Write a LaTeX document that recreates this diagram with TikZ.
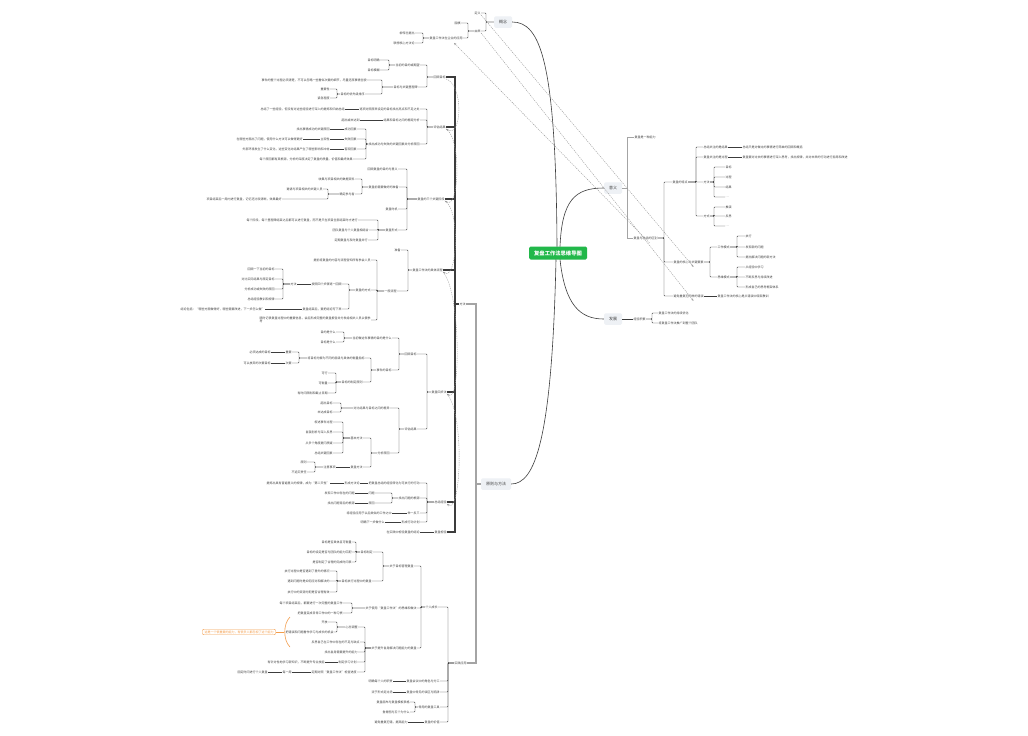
\documentclass[tikz,border=0pt]{standalone}
\usepackage{fontspec}
\setmainfont{Noto Sans CJK SC}
\usetikzlibrary{arrows.meta}
\definecolor{ln}{HTML}{3C3C3C}
\definecolor{tx}{HTML}{404040}
\definecolor{boxf}{HTML}{EEF1F5}
\definecolor{rootg}{HTML}{22B84A}
\definecolor{org}{HTML}{F39C4A}
\definecolor{thk}{HTML}{A4A4A4}
\newcommand\lbr[4][cn]{\foreach \c in {#4}{\draw[#1] (\c.east) -- (#3,0 |- \c.east) |- (#2.west);}}
\newcommand\rbr[4][cn]{\foreach \c in {#4}{\draw[#1] (\c.west) -- (#3,0 |- \c.west) |- (#2.east);}}
\tikzset{
 lt/.style={anchor=east, inner sep=0.3pt, font=\fontsize{3}{3.6}\selectfont, text=tx},
 rt/.style={anchor=west, inner sep=0.3pt, font=\fontsize{3}{3.6}\selectfont, text=tx},
 cn/.style={draw=ln, line width=0.45pt, rounded corners=0.8pt},
 cn1/.style={draw=thk, line width=1.3pt},
 cn2/.style={draw=ln, line width=1.1pt},
 topic/.style={fill=boxf, rounded corners=1.5pt, font=\fontsize{4}{5}\selectfont, text=tx, minimum height=11.5pt, inner xsep=5pt, inner ysep=0pt},
 rl/.style={draw=ln, line width=0.6pt},
 rel/.style={draw=gray!80, line width=0.4pt, dash pattern=on 1.2pt off 1pt, -{Stealth[length=2.5pt,width=2pt]}},
}
\begin{document}
\begin{tikzpicture}[x=1pt,y=-1pt]
\useasboundingbox (0,0) rectangle (1028,736);
\fill[white] (0,0) rectangle (1028,736);
% root
\node[fill=rootg, rounded corners=1.5pt, text=white, font=\fontsize{5.3}{6}\selectfont\bfseries, minimum width=58pt, minimum height=13pt, inner sep=0pt] (root) at (558,253) {复盘工作法思维导图};
\node[topic] (gn) at (503,22) {概念};
\node[topic] (yy) at (613,188) {意义};
\node[topic] (fz) at (613,319) {发展};
\node[topic] (ym) at (496,484) {原则与方法};
\draw[rl] (557,246.5) .. controls (556,60) and (540,22) .. (gn.east);
\draw[rl] (560,246.5) .. controls (562,200) and (575,188) .. (yy.west);
\draw[rl] (560,259.5) .. controls (565,305) and (580,319) .. (fz.west);
\draw[rl] (556,259.5) .. controls (552,440) and (535,484) .. (ym.east);
% gainian
\node[lt] (g1) at (481,13) {定义};
\node[lt] (g2) at (481,31) {由来};
\node[lt] (g21) at (461,23) {围棋};
\node[lt] (g22) at (463,38) {复盘工作法在企业的应用};
\node[lt] (g221) at (415,33) {柳传志提出};
\node[lt] (g222) at (415,43) {联想核心方法论};
\lbr{gn}{486}{g1,g2}
\lbr{g2}{468}{g21,g22}
\lbr{g22}{423}{g221,g222}
% yuanze yu fangfa
\node[lt] (y1) at (466,304) {方法};
\node[lt] (y2) at (467,663) {实践应用};
% a1
\node[lt] (a1) at (446,77) {回顾目标};
\node[lt] (a11) at (420,65) {当初的目的或期望};
\node[lt] (a111) at (380,60) {目标明确};
\node[lt] (a112) at (380,70) {目标模糊};
\node[lt] (a12) at (418,87) {目标与关键里程碑};
\node[lt] (a121) at (367,80) {事件的整个过程必须清楚，不可以忽略一些看似次要的细节，尽量还原事情全貌};
\node[lt] (a122) at (365,94) {目标的优先级排序};
\node[lt] (a1221) at (330,89) {重要性};
\node[lt] (a1222) at (330,98) {紧急程度};
\lbr{a1}{427}{a11,a12}
\lbr{a11}{389}{a111,a112}
\lbr{a12}{382}{a121,a122}
\lbr{a122}{337}{a1221,a1222}
% a2
\node[lt] (a2) at (446,127) {评估结果};
\node[lt] (a21) at (420,109) {逐项对照原来设定的目标找出亮点和不足之处};
\node[lt] (a211) at (345,109) {总结了一些经验，但没有对这些经验进行深入的提炼和归纳总结};
\node[lt] (a22) at (420,120) {结果和目标之间的差距分析};
\node[lt] (a221) at (360,120) {超出或未达到};
\node[lt] (a23) at (420,144) {找出成功与失败的关键因素并分析原因};
\node[lt] (a231) at (357,129) {成功因素};
\node[lt] (a2311) at (330,129) {找出事情成功的关键原因};
\node[lt] (a232) at (357,139) {失败因素};
\node[lt] (a2321) at (330,139) {主观性};
\node[lt] (a2322) at (303,139) {在哪些方面出了问题，使用什么方法可以做得更好};
\node[lt] (a233) at (357,149) {客观因素};
\node[lt] (a2331) at (330,149) {外部环境发生了什么变化，这些变化对结果产生了哪些影响和冲击};
\node[lt] (a234) at (353,159) {每个原因都有其根源，分析的深度决定了复盘的质量、价值和最终效果};
\lbr{a2}{427}{a21,a22,a23}
\lbr{a23}{366}{a231,a232,a233,a234}
\draw[cn] (a211.east) -- (a21.west);
\draw[cn] (a221.east) -- (a22.west);
\draw[cn] (a2311.east) -- (a231.west);
\draw[cn] (a2321.east) -- (a232.west);
\draw[cn] (a2322.east) -- (a2321.west);
\draw[cn] (a2331.east) -- (a233.west);
% a3
\node[lt] (a3) at (445,199) {复盘的三个关键阶段};
\node[lt] (a31) at (398,169) {回顾复盘的目的与意义};
\node[lt] (a32) at (399,187) {复盘前需要做好的准备};
\node[lt] (a321) at (355,179) {收集与项目相关的数据资料};
\node[lt] (a322) at (355,194) {确定参与者};
\node[lt] (a3221) at (323,189) {邀请与项目相关的关键人员};
\node[lt] (a3222) at (282,199) {项目结束后一周内进行复盘，记忆还比较清晰，效果最好};
\node[lt] (a33) at (398,209) {复盘时机};
\node[lt] (a34) at (398,230) {复盘形式};
\node[lt] (a341) at (358,220) {每个阶段、每个里程碑结束之后都可以进行复盘，而不是只在项目全部结束时才进行};
\node[lt] (a342) at (369,230) {团队复盘与个人复盘相结合};
\node[lt] (a343) at (368,240) {定期复盘与及时复盘并行};
\lbr{a3}{407}{a31,a32,a33,a34}
\lbr{a32}{362}{a321,a322}
\lbr{a322}{328}{a3221,a3222}
\lbr{a34}{378}{a341,a342,a343}
% a4
\node[lt] (a4) at (443,270) {复盘工作法的具体流程};
\node[lt] (a41) at (401,250) {准备};
\node[lt] (a42) at (397,291) {一般流程};
\node[lt] (a421) at (371,260) {提前将复盘的内容与流程告知所有参会人员};
\node[lt] (a422) at (371,290) {复盘的方式};
\node[lt] (a4221) at (342,284) {按照四个步骤逐一回顾};
\node[lt] (a42211) at (297,284) {方法};
\node[lt] (a422111) at (275,269) {回顾一下当初的目标};
\node[lt] (a422112) at (275,279) {对比实际结果与原定目标};
\node[lt] (a422113) at (275,289) {分析成功或失败的原因};
\node[lt] (a422114) at (275,299) {总结经验教训和规律};
\node[lt] (a4222) at (342,309) {复盘结束后，要把结论写下来};
\node[lt] (a42221) at (265,309) {结论包括：“哪些方面做得好，哪些需要改进，下一步怎么做”};
\node[lt, align=left] (a423) at (371,320) {随时记录复盘过程中的重要信息，会后形成完整的复盘报告并分发给相关人员以便参\\考};
\lbr{a4}{408}{a41,a42}
\lbr{a42}{377}{a421,a422,a423}
\lbr{a422}{349}{a4221,a4222}
\lbr{a42211}{283}{a422111,a422112,a422113,a422114}
\draw[cn] (a42211.east) -- (a4221.west);
\draw[cn] (a42221.east) -- (a4222.west);
% a5
\node[lt] (a5) at (447,392) {复盘四步法};
\node[lt] (a51) at (417,354) {回顾目标};
\node[lt] (a511) at (392,338) {当初做这件事情的目的是什么};
\node[lt] (a5111) at (336,332) {目的是什么};
\node[lt] (a5112) at (336,342) {目标是什么};
\node[lt] (a512) at (392,370) {事件的目标};
\node[lt] (a5121) at (365,358) {将目标分解为不同的层级与具体的衡量指标};
\node[lt] (a51211) at (292,352) {重要};
\node[lt] (a512111) at (271,352) {必须达成的目标};
\node[lt] (a51212) at (292,363) {次要};
\node[lt] (a512121) at (271,363) {可以放弃的次要目标};
\node[lt] (a5122) at (363,382) {目标的制定原则};
\node[lt] (a51221) at (328,373) {可行};
\node[lt] (a51222) at (328,383) {可衡量};
\node[lt] (a51223) at (328,393) {有时间限制和截止日期};
\node[lt] (a52) at (417,429) {评估结果};
\node[lt] (a521) at (390,408) {对比结果与目标之间的差异};
\node[lt] (a5211) at (333,403) {超出目标};
\node[lt] (a5212) at (333,412) {未达成目标};
\node[lt] (a522) at (390,453) {分析原因};
\node[lt] (a5221) at (363,438) {基本方法};
\node[lt] (a52211) at (333,422) {叙述事件过程};
\node[lt] (a52212) at (333,432) {自我剖析与深入反思};
\node[lt] (a52213) at (333,443) {从多个角度提问质疑};
\node[lt] (a52214) at (333,453) {总结关键因素};
\node[lt] (a5222) at (363,467) {复盘方法};
\node[lt] (a52221) at (336,467) {注意事项};
\node[lt] (a522211) at (307,462) {原则};
\node[lt] (a522212) at (307,472) {不追究责任};
\lbr{a5}{427}{a51,a52}
\lbr{a51}{399}{a511,a512}
\lbr{a511}{344}{a5111,a5112}
\lbr{a512}{371}{a5121,a5122}
\lbr{a5121}{299}{a51211,a51212}
\lbr{a5122}{336}{a51221,a51222,a51223}
\lbr{a52}{399}{a521,a522}
\lbr{a521}{341}{a5211,a5212}
\lbr{a522}{371}{a5221,a5222}
\lbr{a5221}{343}{a52211,a52212,a52213,a52214}
\lbr{a52221}{315}{a522211,a522212}
\draw[cn] (a512111.east) -- (a51211.west);
\draw[cn] (a512121.east) -- (a51212.west);
\draw[cn] (a52221.east) -- (a5222.west);
% a6
\node[lt] (a6) at (447,502) {总结经验};
\node[lt] (a61) at (420,483) {把复盘总结的经验转化为可执行的行动};
\node[lt] (a611) at (360,483) {形成方法论};
\node[lt] (a6111) at (330,483) {提炼出具有普遍意义的规律，成为“第二天性”};
\node[lt] (a62) at (420,498) {找出问题的根源};
\node[lt] (a621) at (375,493) {问题};
\node[lt] (a6211) at (355,493) {发现工作中存在的问题};
\node[lt] (a622) at (375,503) {原因};
\node[lt] (a6221) at (355,503) {找出问题背后的根源};
\node[lt] (a63) at (420,513) {举一反三};
\node[lt] (a631) at (392,513) {将经验应用于以后类似的工作之中};
\node[lt] (a64) at (420,522) {形成行动计划};
\node[lt] (a641) at (385,522) {明确下一步做什么};
\lbr{a6}{427}{a61,a62,a63,a64}
\lbr{a62}{392}{a621,a622}
\draw[cn] (a611.east) -- (a61.west);
\draw[cn] (a6111.east) -- (a611.west);
\draw[cn] (a6211.east) -- (a621.west);
\draw[cn] (a6221.east) -- (a622.west);
\draw[cn] (a631.east) -- (a63.west);
\draw[cn] (a641.east) -- (a64.west);
% a7
\node[lt] (a7) at (447,532) {复盘检验};
\node[lt] (a71) at (420,532) {在实践中检验复盘的结论};
\draw[cn] (a71.east) -- (a7.west);
% b
\node[lt] (b1) at (438,607) {个人成长};
\node[lt] (b11) at (414,566) {关于目标管理复盘};
\node[lt] (b111) at (373,552) {目标制定};
\node[lt] (b1111) at (352,542) {目标是否具体且可衡量};
\node[lt] (b1112) at (352,552) {目标的设定是否与团队的能力匹配};
\node[lt] (b1113) at (352,562) {是否制定了合理的完成时间表};
\node[lt] (b112) at (372,581) {目标执行过程中的复盘};
\node[lt] (b1121) at (330,571) {执行过程中是否遇到了意外的情况};
\node[lt] (b1122) at (330,581) {遇到问题时是如何应对和解决的};
\node[lt] (b1123) at (330,592) {执行中的资源分配是否合理有效};
\node[lt] (b12) at (417,608) {关于使用“复盘工作法”的思维和做法};
\node[lt] (b121) at (343,603) {每个项目结束后，都要进行一次完整的复盘工作};
\node[lt] (b122) at (343,613) {把复盘变成日常工作中的一种习惯};
\node[lt] (b13) at (417,648) {关于提升自身解决问题能力的复盘};
\node[lt] (b131) at (358,627) {心态调整};
\node[lt] (b1311) at (328,622) {开放};
\node[lt] (b1312) at (334,632) {把错误和问题看作学习与成长的机会};
\node[lt] (b132) at (360,642) {反思自己在工作中存在的不足与缺点};
\node[lt] (b133) at (358,652) {找出自身需要提升的能力};
\node[lt] (b134) at (357,662) {制定学习计划};
\node[lt] (b1341) at (325,662) {有针对性地学习新知识，不断提升专业技能};
\node[lt] (b135) at (357,672) {定期对照“复盘工作法”检查进度};
\node[lt] (b1351) at (292,672) {每一周};
\node[lt] (b1352) at (268,672) {固定时间进行个人复盘};
\node[lt] (b2) at (440,681) {复盘会议中的角色与分工};
\node[lt] (b21) at (393,681) {明确每个人的职责};
\node[lt] (b3) at (440,692) {复盘中常见的误区与陷阱};
\node[lt] (b31) at (393,692) {流于形式走过场};
\node[lt] (b4) at (440,707) {常用的复盘工具};
\node[lt] (b41) at (410,702) {复盘画布与复盘模板表格};
\node[lt] (b42) at (410,712) {鱼骨图与五个为什么};
\node[lt] (b5) at (440,722) {复盘的价值};
\node[lt] (b51) at (408,722) {避免重复犯错，提高能力};
\lbr{b1}{421}{b11,b12,b13}
\lbr{b11}{383}{b111,b112}
\lbr{b111}{356}{b1111,b1112,b1113}
\lbr{b112}{337}{b1121,b1122,b1123}
\lbr{b12}{352}{b121,b122}
\lbr{b13}{365}{b131,b132,b133,b134,b135}
\lbr{b131}{337}{b1311,b1312}
\lbr{b4}{415}{b41,b42}
\draw[cn] (b1341.east) -- (b134.west);
\draw[cn] (b1351.east) -- (b135.west);
\draw[cn] (b1352.east) -- (b1351.west);
\draw[cn] (b21.east) -- (b2.west);
\draw[cn] (b31.east) -- (b3.west);
\draw[cn] (b51.east) -- (b5.west);
% callout
\node[draw=org, line width=0.4pt, text=org, rounded corners=1pt, fill=white, font=\fontsize{3}{3.6}\selectfont, inner xsep=2pt, inner ysep=1.3pt] (call) at (239,632) {这是一个很重要的能力，有很多人都忽视了这个能力};
\coordinate (brT) at (290,617);
\coordinate (brM) at (283.5,632);
\coordinate (brB) at (290,647);
\draw[org, line width=0.6pt] (brT) .. controls (283,624) and (283,640) .. (brB);
\draw[org, line width=0.5pt] (call.east) -- (brM);
% main brackets
\lbr[cn1]{ym}{476}{y1,y2}
\lbr[cn2]{y1}{455}{a1,a2,a3,a4,a5,a6,a7}
\lbr[cn]{y2}{448}{b1,b2,b3,b4,b5}
% relationship curves
\draw[rel] (a1.south east) .. controls +(18,6) and +(16,10) .. (a2.south east);
\draw[rel] (a2.south east) .. controls +(16,10) and +(14,10) .. (a3.south east);
\draw[rel] (a3.south east) .. controls +(16,10) and +(14,10) .. (a4.south east);
\draw[rel] (a4.south east) .. controls +(18,20) and +(14,12) .. (a5.south east);
\draw[rel] (a5.south east) .. controls +(18,20) and +(14,12) .. (a6.south east);
% yiyi
\node[rt] (r1) at (634,137) {复盘是一种能力};
\node[rt] (r2) at (633,238) {复盘与总结的区别};
\node[rt] (r21) at (672,182) {复盘的特点};
\node[rt] (r211) at (703,147) {总结关注的是结果};
\node[rt] (r2111) at (742,147) {总结只是对做过的事情进行简单的回顾和概括};
\node[rt] (r212) at (703,157) {复盘关注的是过程};
\node[rt] (r2121) at (742,157) {复盘要对过去的事情进行深入思考，找出规律，并对未来的行动进行指导和改进};
\node[rt] (r213) at (703,182) {方法};
\node[rt] (r2131) at (725,167) {目标};
\node[rt] (r2132) at (725,177) {过程};
\node[rt] (r2133) at (725,187) {结果};
\node[rt] (r2134) at (725,197) {…};
\node[rt] (r214) at (703,216) {方式};
\node[rt] (r2141) at (725,207) {推演};
\node[rt] (r2142) at (725,216) {反思};
\node[rt] (r2143) at (725,226) {…};
\node[rt] (r22) at (673,262) {复盘的核心与关键要素};
\node[rt] (r221) at (717,247) {工作模式};
\node[rt] (r2211) at (745,236) {执行};
\node[rt] (r2212) at (745,247) {发现新的问题};
\node[rt] (r2213) at (745,257) {提出解决问题的新方法};
\node[rt] (r222) at (717,277) {思维模式};
\node[rt] (r2221) at (745,267) {从经验中学习};
\node[rt] (r2222) at (745,277) {不断反思与持续改进};
\node[rt] (r2223) at (745,287) {形成自己的思考框架体系};
\node[rt] (r23) at (673,296) {避免重复犯同样的错误};
\node[rt] (r231) at (717,296) {复盘工作法的核心是从错误中吸取教训};
\rbr[draw=thk, line width=0.9pt]{yy}{627}{r1,r2}
\rbr{r2}{664}{r21,r22,r23}
\rbr{r21}{696}{r211,r212,r213,r214}
\rbr{r213}{714}{r2131,r2132,r2133,r2134}
\rbr{r214}{714}{r2141,r2142,r2143}
\rbr{r22}{710}{r221,r222}
\rbr{r221}{737}{r2211,r2212,r2213}
\rbr{r222}{737}{r2221,r2222,r2223}
\draw[cn] (r211.east) -- (r2111.west);
\draw[cn] (r212.east) -- (r2121.west);
\draw[cn] (r23.east) -- (r231.west);
% fazhan
\node[rt] (f1) at (633,319) {经验积累};
\node[rt] (f11) at (658,313) {复盘工作法的持续优化};
\node[rt] (f12) at (658,323) {将复盘工作法推广到整个团队};
\draw[cn] (fz.east) -- (f1.west);
\rbr{f1}{652}{f11,f12}
% cross relationships
\draw[rel] (g1.south east) -- ([xshift=5pt,yshift=-3pt]r22.south);
\draw[rel] (g2.south east) -- ([xshift=5pt,yshift=-3pt]r23.south);
\draw[rel] ([xshift=4pt,yshift=-3pt]r2.south) -- ([xshift=8pt,yshift=-3pt]g22.south);
\end{tikzpicture}
\end{document}
